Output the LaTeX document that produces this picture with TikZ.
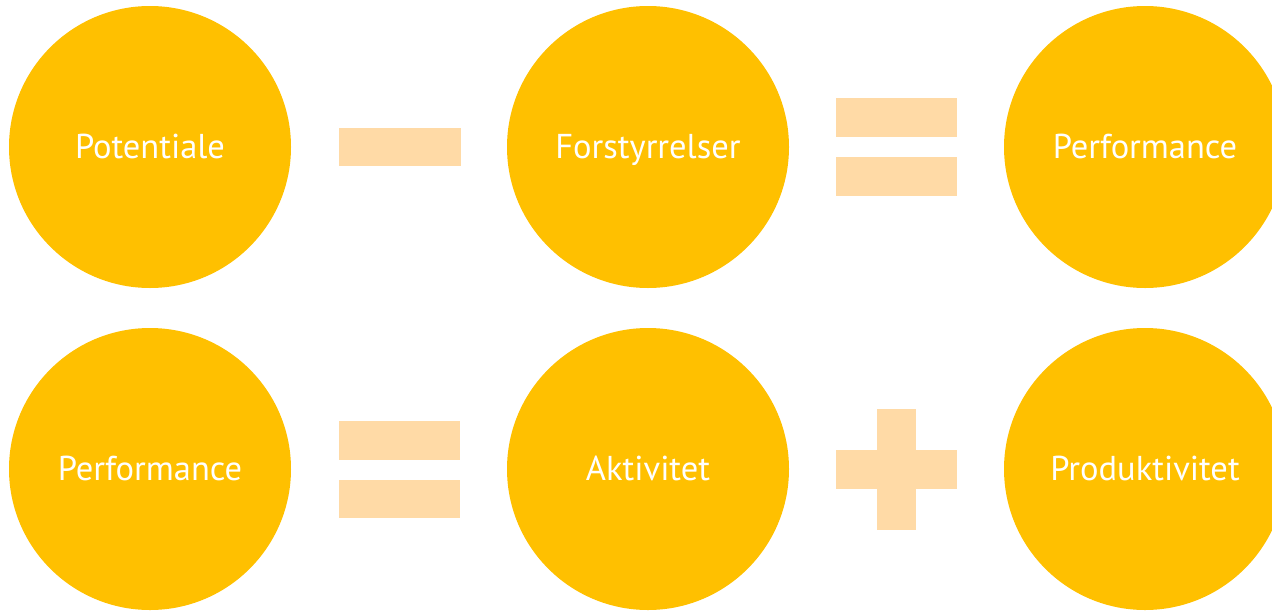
\documentclass[tikz,border=0pt]{standalone}
\usepackage{fontspec}
\setmainfont{PT Sans}
\definecolor{amber}{HTML}{FFC000}
\definecolor{peach}{HTML}{FFDAA6}
\begin{document}
\begin{tikzpicture}[x=1pt,y=-1pt,
  ball/.style={circle,fill=amber,minimum size=282pt,inner sep=0pt},
  lbl/.style={anchor=base,inner sep=0pt,text=white,font=\fontsize{34.5}{40}\selectfont},
  bar/.style={fill=peach,draw=none}]
\useasboundingbox (0,0) rectangle (1272,611);
\clip (0,0) rectangle (1272,611);
\node[ball] (p1) at (150,147) {};
\node[ball] (f1) at (648,147) {};
\node[ball] (r1) at (1145,147) {};
\node[ball] (p2) at (150,469) {};
\node[ball] (a2) at (648,469) {};
\node[ball] (r2) at (1145,469) {};
\node[lbl] (tp1) at ([yshift=-11pt]p1.center) {Potentiale};
\node[lbl] (tf1) at ([yshift=-11pt]f1.center) {Forstyrrelser};
\node[lbl] (tr1) at ([yshift=-11pt]r1.center) {Performance};
\node[lbl] (tp2) at ([yshift=-11.5pt]p2.center) {Performance};
\node[lbl] (ta2) at ([yshift=-11.5pt]a2.center) {Aktivitet};
\node[lbl] (tr2) at ([yshift=-11.5pt]r2.center) {Produktivitet};
% minus
\fill[bar] (339,128) rectangle (461,166);
% equals top
\fill[bar] (836,98) rectangle (957,137);
\fill[bar] (836,157) rectangle (957,196);
% equals bottom
\fill[bar] (339,421) rectangle (460,460);
\fill[bar] (339,480) rectangle (460,518);
% plus
\fill[bar] (836,450) rectangle (957,489);
\fill[bar] (877,409) rectangle (916,530);
\end{tikzpicture}
\end{document}
